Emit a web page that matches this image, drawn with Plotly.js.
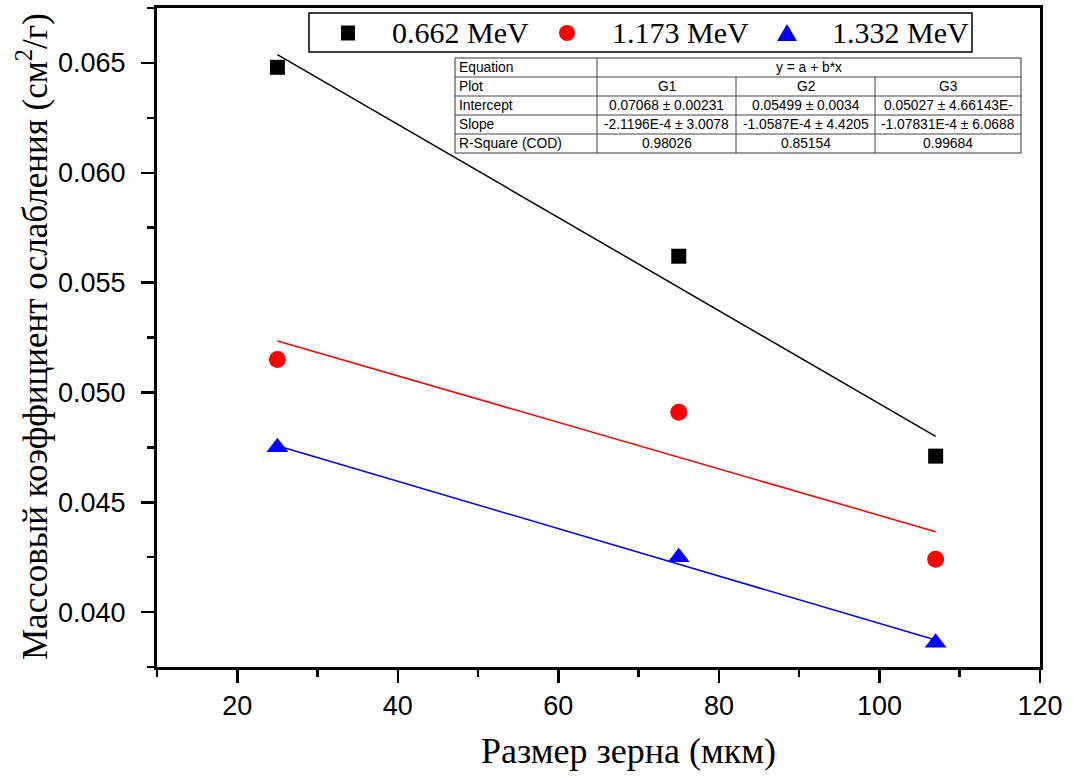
<!DOCTYPE html>
<html>
<head>
<meta charset="utf-8">
<script src="https://cdn.plot.ly/plotly-3.0.1.min.js"></script>
<style>
html,body{margin:0;padding:0;background:#fff;}
#chart{width:1073px;height:776px;}
</style>
</head>
<body>
<div id="chart"></div>
<script>
// ---- data ----
var grainSize = [25, 75, 107];
var mu0662 = [0.0648, 0.0562, 0.0471];
var mu1173 = [0.0515, 0.0491, 0.0424];
var mu1332 = [0.0475, 0.0425, 0.0386];
var seriesNames = ['0.662 MeV', '1.173 MeV', '1.332 MeV'];

var fitX = [25, 107];
var fit0662 = [0.06538, 0.04800];
var fit1173 = [0.05234, 0.04366];
var fit1332 = [0.04757, 0.03873];

var tableRowLabels = ['Equation', 'Plot', 'Intercept', 'Slope', 'R-Square (COD)'];
var equationText = 'y = a + b*x';
var plotNames = ['G1', 'G2', 'G3'];
var intercepts = ['0.07068 ± 0.00231', '0.05499 ± 0.0034', '0.05027 ± 4.66143E-'];
var slopes = ['-2.1196E-4 ± 3.0078', '-1.0587E-4 ± 4.4205', '-1.07831E-4 ± 6.0688'];
var rSquare = ['0.98026', '0.85154', '0.99684'];

var xTitle = 'Размер зерна (мкм)';
var yTitle = 'Массовый коэффициент ослабления (см<sup>2</sup>/г)';

// ---- layout geometry (pixels) ----
var W = 1073, H = 776;
var L = 157, R = 1040, T = 8, B = 667;
function xp(px) { return (px - L) / (R - L); }
function yp(py) { return (B - py) / (B - T); }

var colors = ['#000000', '#ff0000', '#0000ff'];
var symbols = ['square', 'circle', 'triangle-up'];
var sizes = [15, 17, 19];
var ys = [mu0662, mu1173, mu1332];
var fits = [fit0662, fit1173, fit1332];

var traces = [];
for (var i = 0; i < 3; i++) {
  traces.push({
    x: fitX, y: fits[i], mode: 'lines', type: 'scatter',
    line: {color: colors[i], width: 1.5}, showlegend: false, hoverinfo: 'skip'
  });
}
for (var j = 0; j < 3; j++) {
  traces.push({
    x: grainSize, y: ys[j], mode: 'markers', type: 'scatter', name: seriesNames[j],
    marker: {color: colors[j], symbol: symbols[j], size: sizes[j]}, showlegend: false
  });
}

var shapes = [];
var annotations = [];
function P(type, x0, y0, x1, y1, extra) {
  var s = {type: type, xref: 'paper', yref: 'paper', x0: xp(x0), x1: xp(x1), y0: yp(y0), y1: yp(y1), layer: 'above'};
  for (var k in extra) s[k] = extra[k];
  shapes.push(s);
}

// ---- legend (box, glyphs, labels) ----
var legBox = [309, 13, 972, 52];
var legGlyphX = [348, 567, 787];
var legTextX = [390, 610, 830];
var legY = 33;
P('rect', legBox[0], legBox[1], legBox[2], legBox[3], {line: {color: '#000', width: 1.5}, fillcolor: '#fff'});
P('rect', legGlyphX[0] - 7, legY - 7.5, legGlyphX[0] + 7, legY + 7.5, {line: {width: 0}, fillcolor: colors[0]});
P('circle', legGlyphX[1] - 8, legY - 8, legGlyphX[1] + 8, legY + 8, {line: {width: 0}, fillcolor: colors[1]});
(function () {
  var cx = legGlyphX[2], top = legY - 9, bot = legY + 8, hw = 10;
  shapes.push({type: 'path', xref: 'paper', yref: 'paper', layer: 'above',
    path: 'M ' + xp(cx) + ' ' + yp(top) + ' L ' + xp(cx + hw) + ' ' + yp(bot) + ' L ' + xp(cx - hw) + ' ' + yp(bot) + ' Z',
    line: {width: 0}, fillcolor: colors[2]});
})();
var legFont = {family: 'Liberation Serif, Times New Roman, serif', size: 30, color: '#000'};
for (var m = 0; m < 3; m++) {
  annotations.push({xref: 'paper', yref: 'paper', x: xp(legTextX[m]), y: yp(legY), xanchor: 'left', yanchor: 'middle',
    text: seriesNames[m], showarrow: false, font: legFont});
}

// ---- table ----
var colX = [455, 597, 736, 875, 1021];
var rowY = [58, 77, 96, 115, 134, 153];
var tblLine = {color: '#444', width: 1};
P('rect', colX[0], rowY[0], colX[4], rowY[5], {line: {color: '#333', width: 1}, fillcolor: '#ffffff'});
for (var r = 1; r < 5; r++) P('line', colX[0], rowY[r], colX[4], rowY[r], {line: tblLine});
P('line', colX[1], rowY[0], colX[1], rowY[5], {line: tblLine});
for (var c = 2; c < 4; c++) P('line', colX[c], rowY[1], colX[c], rowY[5], {line: tblLine});

var tblFont = {family: 'Liberation Sans, Arial, sans-serif', size: 13.8, color: '#000'};
function cellText(txt, x0, x1, row, align) {
  var yc = (rowY[row] + rowY[row + 1]) / 2;
  annotations.push({
    xref: 'paper', yref: 'paper', text: txt, showarrow: false, font: tblFont,
    x: align === 'left' ? xp(x0 + 2) : xp((x0 + x1) / 2), xanchor: align === 'left' ? 'left' : 'center',
    y: yp(yc), yanchor: 'middle'
  });
}
for (var rr = 0; rr < 5; rr++) cellText(tableRowLabels[rr], colX[0], colX[1], rr, 'left');
cellText(equationText, colX[1], colX[4], 0, 'center');
for (var k = 0; k < 3; k++) {
  cellText(plotNames[k], colX[k + 1], colX[k + 2], 1, 'center');
  cellText(intercepts[k], colX[k + 1], colX[k + 2], 2, 'center');
  cellText(slopes[k], colX[k + 1], colX[k + 2], 3, 'center');
  cellText(rSquare[k], colX[k + 1], colX[k + 2], 4, 'center');
}

// ---- axis titles ----
var titleFont = {family: 'Liberation Serif, Times New Roman, serif', size: 36, color: '#000'};
var yTitleFont = {family: 'Liberation Serif, Times New Roman, serif', size: 35, color: '#000'};
annotations.push({xref: 'paper', yref: 'paper', x: xp(628), y: yp(751), xanchor: 'center', yanchor: 'middle',
  text: xTitle, showarrow: false, font: titleFont});
annotations.push({xref: 'paper', yref: 'paper', x: xp(32), y: yp(337), xanchor: 'center', yanchor: 'middle',
  text: yTitle, showarrow: false, font: yTitleFont, textangle: -90});

var tickFont = {family: 'Liberation Sans, Arial, sans-serif', size: 27, color: '#000'};

var layout = {
  width: W, height: H,
  margin: {l: L, r: W - R, t: T, b: H - B},
  paper_bgcolor: '#fff', plot_bgcolor: '#fff',
  showlegend: false,
  xaxis: {
    range: [10, 120], dtick: 20, tick0: 0, showgrid: false, zeroline: false,
    showline: true, linecolor: '#000', linewidth: 3, mirror: true,
    ticks: 'outside', ticklen: 13, tickwidth: 2.5, tickcolor: '#000',
    minor: {dtick: 10, tick0: 0, ticks: 'outside', ticklen: 7, tickwidth: 2.5, tickcolor: '#000'},
    tickfont: tickFont
  },
  yaxis: {
    range: [0.0375, 0.0675], dtick: 0.005, tick0: 0, tickformat: '.3f', showgrid: false, zeroline: false,
    showline: true, linecolor: '#000', linewidth: 3, mirror: true,
    ticks: 'outside', ticklen: 13, tickwidth: 2.5, tickcolor: '#000',
    minor: {dtick: 0.0025, tick0: 0, ticks: 'outside', ticklen: 7, tickwidth: 2.5, tickcolor: '#000'},
    tickfont: tickFont, ticklabelstandoff: 10
  },
  shapes: shapes,
  annotations: annotations
};

Plotly.newPlot('chart', traces, layout, {displayModeBar: false, staticPlot: true});
</script>
</body>
</html>
